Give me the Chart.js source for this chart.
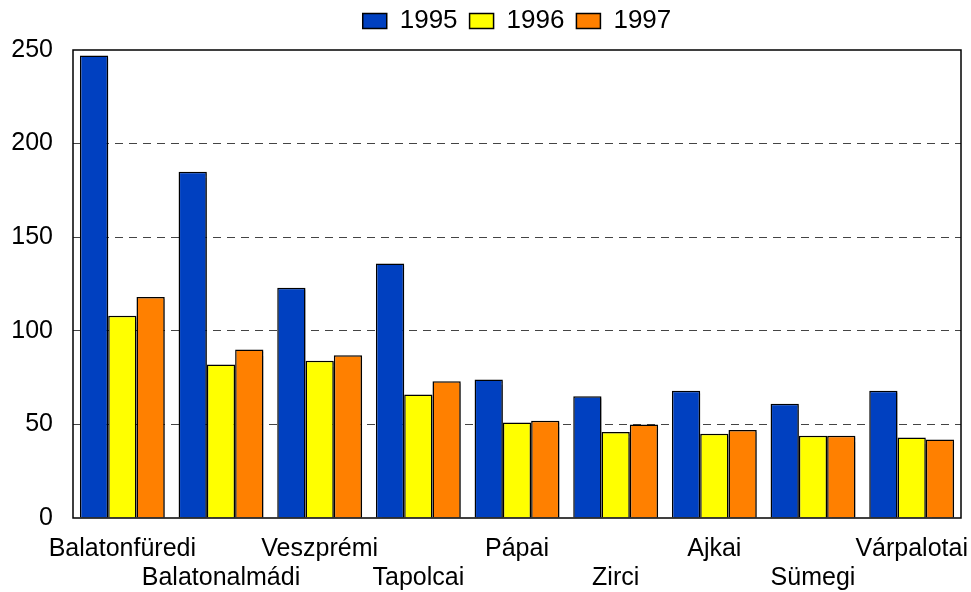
<!DOCTYPE html>
<html>
<head>
<meta charset="utf-8">
<script src="https://cdn.jsdelivr.net/npm/chart.js@4.4.1/dist/chart.umd.min.js"></script>
<style>
  html, body { margin: 0; padding: 0; background: #fff; }
  #wrap { width: 971px; height: 592px; }
</style>
</head>
<body>
<div id="wrap"><canvas id="barChart"></canvas></div>
<script>
// Data
const categories = ['Balatonfüredi', 'Balatonalmádi', 'Veszprémi', 'Tapolcai', 'Pápai', 'Zirci', 'Ajkai', 'Sümegi', 'Várpalotai'];
const values1995 = [247, 185, 123, 136, 74, 65, 68, 61, 68];
const values1996 = [108, 82, 84, 66, 51, 46, 45, 44, 43];
const values1997 = [118, 90, 87, 73, 52, 50, 47, 44, 42];
const yTicks = [0, 50, 100, 150, 200, 250];

const FONT = 'Liberation Sans, Arial, sans-serif';

// black frame round the plot area + light shadow under the bars
const frame = {
    id: 'frame',
    beforeInit(chart) {
        // leave a bit more room under the legend
        const fit = chart.legend.fit;
        chart.legend.fit = function () {
            fit.call(this);
            this.height += 6;
        };
    },
    beforeDatasetsDraw(chart) {
        const c = chart.ctx;
        c.save();
        c.shadowColor = 'rgba(0,0,0,0.3)';
        c.shadowOffsetX = 2;
        c.shadowOffsetY = 2;
        c.shadowBlur = 1;
    },
    afterDatasetsDraw(chart) {
        const c = chart.ctx;
        c.restore();
        const a = chart.chartArea;
        c.save();
        c.strokeStyle = '#000';
        c.lineWidth = 1.5;
        c.strokeRect(a.left, a.top, a.right - a.left, a.bottom - a.top);
        c.restore();
    }
};

const ctx = document.getElementById('barChart').getContext('2d');
const barChart = new Chart(ctx, {
    type: 'bar',
    data: {
        labels: categories,
        datasets: [
            { label: '1995', data: values1995, backgroundColor: '#0040C0' },
            { label: '1996', data: values1996, backgroundColor: '#FFFF00' },
            { label: '1997', data: values1997, backgroundColor: '#FF8000' }
        ]
    },
    options: {
        responsive: true,
        maintainAspectRatio: false,
        animation: false,
        layout: { padding: { left: 0, right: 10, top: -4, bottom: 0 } },
        datasets: {
            bar: {
                borderColor: '#000',
                borderWidth: 1.5,
                categoryPercentage: 0.86,
                barPercentage: 1.0
            }
        },
        plugins: {
            tooltip: { enabled: false },
            legend: {
                position: 'top',
                fullSize: false,
                labels: {
                    color: '#000',
                    font: { family: FONT, size: 26 },
                    boxWidth: 24,
                    boxHeight: 15,
                    padding: 12,
                    useBorderRadius: false
                }
            }
        },
        scales: {
            x: {
                grid: { display: false, drawTicks: false },
                border: { display: false },
                ticks: {
                    color: '#000',
                    font: { family: FONT, size: 25, lineHeight: 1.15 },
                    maxRotation: 0,
                    autoSkip: false,
                    padding: 17,
                    callback: function (val, i) {
                        const name = categories[i];
                        return i % 2 === 0 ? [name, ''] : ['', name];
                    }
                },
                afterFit: function (scale) {
                    scale.height = 74;
                    // let the end labels run into the margin like the original
                    scale.paddingLeft = 0;
                    scale.paddingRight = 0;
                }
            },
            y: {
                min: 0,
                max: 250,
                afterBuildTicks: function (scale) {
                    scale.ticks = yTicks.map(v => ({ value: v }));
                },
                grid: {
                    drawTicks: false,
                    lineWidth: 1,
                    color: function (c) {
                        const v = c.tick && c.tick.value;
                        return (v === 0 || v === 250) ? 'rgba(0,0,0,0)' : '#444';
                    }
                },
                border: { display: false, dash: [8, 6] },
                ticks: {
                    color: '#000',
                    font: { family: FONT, size: 25 },
                    padding: 20
                },
                afterFit: function (scale) { scale.width = 73; }
            }
        }
    },
    plugins: [frame]
});
</script>
</body>
</html>
